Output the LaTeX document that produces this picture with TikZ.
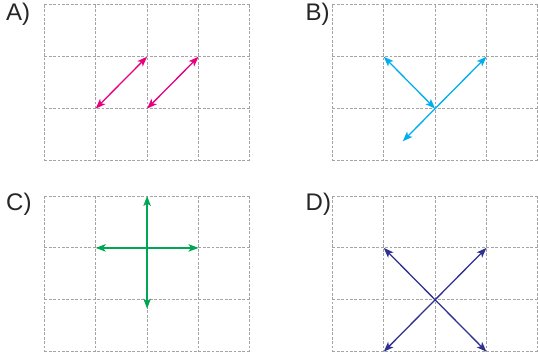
\documentclass[tikz,border=0pt]{standalone}
\usepackage{fontspec}
\setmainfont{Liberation Sans}
\usetikzlibrary{arrows.meta}
\definecolor{cmag}{HTML}{E6007E}
\definecolor{ccyan}{HTML}{00AEEF}
\definecolor{cgreen}{HTML}{00A651}
\definecolor{cblue}{HTML}{2E3192}
\definecolor{cgrid}{HTML}{A4A4A4}
\tikzset{
  gridline/.style={draw=cgrid, line width=0.9pt, dash pattern=on 2.8pt off 1.6pt},
  vec/.style={line width=1.3pt, {Stealth[length=10pt,width=7.5pt,inset=2.5pt]}-{Stealth[length=10pt,width=7.5pt,inset=2.5pt]}},
  lab/.style={anchor=base west, inner sep=0pt, font=\fontsize{24}{26}\selectfont, text=black!85}
}
\newcommand{\panelgrid}{%
  \foreach \i in {0,...,4} {\draw[gridline] (\i,0) -- (\i,3);}
  \foreach \j in {0,...,3} {\draw[gridline] (0,\j) -- (4,\j);}
}
\begin{document}
\begin{tikzpicture}[x=1pt,y=-1pt]
\useasboundingbox (0,0) rectangle (538,359);
\node[lab] (la) at (6,20.5) {A)};
\node[lab] (lb) at (305.5,20.5) {B)};
\node[lab] (lc) at (6,210.5) {C)};
\node[lab] (ld) at (305.5,210.5) {D)};
% A
\begin{scope}[shift={(44.3,4.8)}, x=51.4pt, y=-51.9pt]
  \panelgrid
  \coordinate (a1) at (1,2); \coordinate (a2) at (2,1);
  \coordinate (a3) at (2,2); \coordinate (a4) at (3,1);
  \draw[vec, cmag] (a1) -- (a2);
  \draw[vec, cmag] (a3) -- (a4);
\end{scope}
% B
\begin{scope}[shift={(332.4,4.8)}, x=51.35pt, y=-51.9pt]
  \panelgrid
  \coordinate (b1) at (1,1); \coordinate (b2) at (2,2);
  \coordinate (b3) at (3,1); \coordinate (b4) at (1.37,2.63);
  \draw[vec, ccyan] (b1) -- (b2);
  \draw[vec, ccyan] (b3) -- (b4);
\end{scope}
% C
\begin{scope}[shift={(44.3,196)}, x=51.4pt, y=-51.9pt]
  \panelgrid
  \coordinate (c1) at (2,0); \coordinate (c2) at (2,2.17);
  \coordinate (c3) at (1,1); \coordinate (c4) at (3,1);
  \draw[vec, cgreen] (c1) -- (c2);
  \draw[vec, cgreen] (c3) -- (c4);
\end{scope}
% D
\begin{scope}[shift={(332.4,196)}, x=51.35pt, y=-51.9pt]
  \panelgrid
  \coordinate (d1) at (1,1); \coordinate (d2) at (3,3);
  \coordinate (d3) at (3,1); \coordinate (d4) at (1,3);
  \draw[vec, cblue] (d1) -- (d2);
  \draw[vec, cblue] (d3) -- (d4);
\end{scope}
\end{tikzpicture}
\end{document}
